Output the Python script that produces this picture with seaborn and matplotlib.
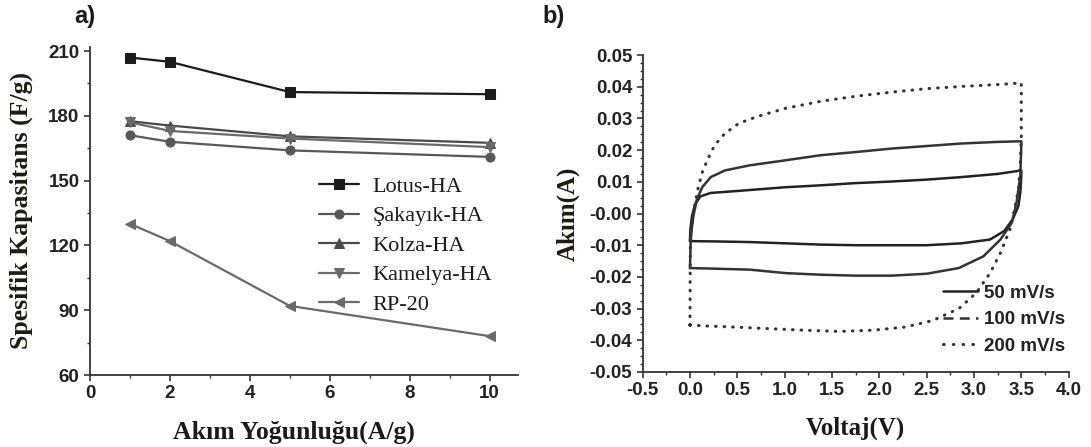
import numpy as np
import pandas as pd
import matplotlib
matplotlib.use("Agg")
import matplotlib.pyplot as plt
from matplotlib.lines import Line2D
from matplotlib.ticker import MultipleLocator, FormatStrFormatter
import seaborn as sns

# ---------------- data: panel a ----------------
current_density = [1, 2, 5, 10]
lotus_ha = [207, 205, 191, 190]
sakayik_ha = [171, 168, 164, 161]
kolza_ha = [177.5, 175.5, 170.5, 167.5]
kamelya_ha = [177, 173, 169.5, 165.5]
rp_20 = [130, 122, 92, 78]
series_names = ["Lotus-HA", "Şakayık-HA", "Kolza-HA", "Kamelya-HA", "RP-20"]

# ---------------- data: panel b (CV loops) ----------------
v_50 = [0.0, 0.005, 0.022, 0.056, 0.11, 0.22, 0.45, 1.01, 1.38, 1.75, 2.13, 2.5, 2.87, 3.25, 3.5,
        3.5, 3.49, 3.47, 3.41, 3.32, 3.17, 2.87, 2.5, 2.13, 1.75, 1.38, 1.01, 0.63, 0.26, 0.0]
i_50 = [-0.0087, -0.005, -0.0007, 0.003, 0.0054, 0.0065, 0.007, 0.0083, 0.0089, 0.0096, 0.0101, 0.0107, 0.0115, 0.0125, 0.0136,
        0.012, 0.0067, 0.0024, -0.0018, -0.0055, -0.0082, -0.0094, -0.0100, -0.0100, -0.0100, -0.0098, -0.0094, -0.0090, -0.0088, -0.0087]

v_100 = [0.0, 0.008, 0.018, 0.037, 0.075, 0.13, 0.22, 0.37, 0.63, 1.01, 1.38, 1.75, 2.13, 2.5, 2.87, 3.25, 3.5,
         3.5, 3.49, 3.45, 3.4, 3.28, 3.1, 2.84, 2.5, 2.13, 1.75, 1.38, 1.01, 0.63, 0.26, 0.0]
i_100 = [-0.0172, -0.0092, -0.005, -0.0007, 0.0046, 0.0083, 0.0115, 0.0136, 0.0152, 0.0168, 0.0184, 0.0194, 0.0205, 0.0213, 0.0221, 0.0226, 0.0228,
         0.0215, 0.012, 0.0035, -0.0029, -0.0082, -0.0135, -0.0172, -0.0190, -0.0196, -0.0196, -0.0193, -0.0188, -0.0177, -0.0174, -0.0172]

v_200 = [0.0, 0.005, 0.04, 0.075, 0.13, 0.19, 0.26, 0.37, 0.52, 0.71, 1.01, 1.38, 1.75, 2.13, 2.5, 2.87, 3.25, 3.5,
         3.5, 3.5, 3.49, 3.47, 3.43, 3.38, 3.28, 3.17, 3.02, 2.84, 2.57, 2.28, 1.94, 1.57, 1.19, 0.82, 0.45, 0.19, 0.0]
i_200 = [-0.0352, -0.007, 0.0003, 0.0067, 0.013, 0.0173, 0.0215, 0.0253, 0.0285, 0.0306, 0.0332, 0.0354, 0.037, 0.0383, 0.0394, 0.0401, 0.0407, 0.0412,
         0.0354, 0.0247, 0.016, 0.0077, 0.0014, -0.005, -0.0124, -0.0188, -0.0252, -0.030, -0.0337, -0.0358, -0.0368, -0.0372, -0.0368, -0.0363, -0.0358, -0.0355, -0.0352]

scan_labels = ["50 mV/s", "100 mV/s", "200 mV/s"]

# ---------------- styling ----------------
sns.set_theme(style="ticks")
plt.rcParams["font.family"] = ["Liberation Sans", "DejaVu Sans"]
plt.rcParams["axes.linewidth"] = 1.3
plt.rcParams["xtick.major.width"] = 1.2
plt.rcParams["ytick.major.width"] = 1.2
plt.rcParams["xtick.minor.width"] = 1.0
plt.rcParams["ytick.minor.width"] = 1.0
plt.rcParams["xtick.major.size"] = 4
plt.rcParams["ytick.major.size"] = 4
plt.rcParams["xtick.minor.size"] = 2.5
plt.rcParams["ytick.minor.size"] = 2.5

AXC = "#333333"
fig = plt.figure(figsize=(10.91, 4.47), dpi=100)
axA = fig.add_axes([0.0825, 0.161, 0.392, 0.7345])
axB = fig.add_axes([0.589, 0.1678, 0.3905, 0.709])

# ---------------- panel a ----------------
dfA = pd.DataFrame({
    "x": current_density * 5,
    "y": lotus_ha + sakayik_ha + kolza_ha + kamelya_ha + rp_20,
    "s": sum([[n] * len(current_density) for n in series_names], []),
})
colors = ["#1c1c1c", "#585858", "#4a4a4a", "#6a6a6a", "#6a6a6a"]
markers = ["s", "o", "^", "v", "<"]
for name, c, m in zip(series_names, colors, markers):
    sub = dfA[dfA["s"] == name]
    sns.lineplot(data=sub, x="x", y="y", ax=axA, color=c, marker=m, markersize=6.5,
                 markeredgecolor=c, linewidth=1.6, label=name, estimator=None)

axA.set_xlim(0, 10.7)
axA.set_ylim(60, 212)
axA.xaxis.set_major_locator(MultipleLocator(2))
axA.xaxis.set_minor_locator(MultipleLocator(1))
axA.yaxis.set_major_locator(MultipleLocator(30))
axA.yaxis.set_minor_locator(MultipleLocator(15))
sns.despine(ax=axA)
for sp in axA.spines.values():
    sp.set_color(AXC)
axA.tick_params(which="both", colors=AXC, labelcolor="#222222", labelsize=13.5, direction="out")
for t in axA.get_xticklabels() + axA.get_yticklabels():
    t.set_fontweight("bold")
axA.set_xlabel("Akım Yoğunluğu(A/g)", family="Liberation Serif", fontweight="bold", fontsize=18.5, color="#1a1a1a")
axA.set_ylabel("Spesifik Kapasitans (F/g)", family="Liberation Serif", fontweight="bold", fontsize=18.5, color="#1e1a10")
axA.xaxis.set_label_coords(0.476, -0.175)
axA.xaxis.label.set_va("center")
axA.yaxis.set_label_coords(-0.16, 0.5)
axA.yaxis.label.set_va("center")
legA = axA.legend(loc="upper left", bbox_to_anchor=(0.535, 0.605), frameon=False,
                  prop={"family": "Liberation Serif", "size": 16}, handlelength=1.8,
                  handletextpad=0.6, labelspacing=0.4, borderpad=0, borderaxespad=0)
for t in legA.get_texts():
    t.set_color("#1a1a1a")

# ---------------- panel b ----------------
dfs = []
for lab, v, i in zip(scan_labels, [v_50, v_100, v_200], [i_50, i_100, i_200]):
    dfs.append(pd.DataFrame({"v": v, "i": i, "rate": lab}))
dfB = pd.concat(dfs, ignore_index=True)

sns.lineplot(data=dfB[dfB.rate == "50 mV/s"], x="v", y="i", sort=False, estimator=None,
             ax=axB, color="#222222", linewidth=1.8, legend=False)
sns.lineplot(data=dfB[dfB.rate == "100 mV/s"], x="v", y="i", sort=False, estimator=None,
             ax=axB, color="#333333", linewidth=1.8, legend=False)
sns.lineplot(data=dfB[dfB.rate == "200 mV/s"], x="v", y="i", sort=False, estimator=None,
             ax=axB, color="#333333", linewidth=2.2, linestyle=(0, (0.2, 2.6)),
             dash_capstyle="round", legend=False)

axB.set_xlim(-0.5, 4.0)
axB.set_ylim(-0.05, 0.05)
axB.xaxis.set_major_locator(MultipleLocator(0.5))
axB.xaxis.set_minor_locator(MultipleLocator(0.25))
axB.yaxis.set_major_locator(MultipleLocator(0.01))
axB.yaxis.set_minor_locator(MultipleLocator(0.0025))
axB.xaxis.set_major_formatter(FormatStrFormatter("%.1f"))
axB.yaxis.set_major_formatter(FormatStrFormatter("%.2f"))
sns.despine(ax=axB)
for sp in axB.spines.values():
    sp.set_color(AXC)
axB.tick_params(which="both", colors=AXC, labelcolor="#222222", labelsize=13.5, direction="out")
for t in axB.get_xticklabels() + axB.get_yticklabels():
    t.set_fontweight("bold")
axB.set_xlabel("Voltaj(V)", family="Liberation Serif", fontweight="bold", fontsize=18, color="#1a1a1a")
axB.set_ylabel("Akım(A)", family="Liberation Serif", fontweight="bold", fontsize=18, color="#1e1a10")
axB.xaxis.set_label_coords(0.5, -0.177)
axB.xaxis.label.set_va("center")
axB.yaxis.set_label_coords(-0.176, 0.5)
axB.yaxis.label.set_va("center")

handles = [Line2D([], [], color="#222222", lw=1.8, linestyle="-"),
           Line2D([], [], color="#333333", lw=1.8, linestyle=(0, (4, 2.5))),
           Line2D([], [], color="#333333", lw=2.2, linestyle=(0, (0.2, 3.0)), dash_capstyle="round")]
legB = axB.legend(handles, scan_labels, loc="upper left", bbox_to_anchor=(0.704, 0.275), frameon=False,
                  prop={"family": "Liberation Sans", "weight": "bold", "size": 13.5}, handlelength=1.9,
                  handletextpad=0.3, labelspacing=0.5, borderpad=0, borderaxespad=0)
for t in legB.get_texts():
    t.set_color("#222222")

fig.text(0.078, 0.963, "a)", fontsize=17, fontweight="bold", color="#1a1a1a", va="center", ha="center")
fig.text(0.507, 0.963, "b)", fontsize=17, fontweight="bold", color="#1a1a1a", va="center", ha="center")

fig.savefig("out.png", dpi=100, facecolor="white")
